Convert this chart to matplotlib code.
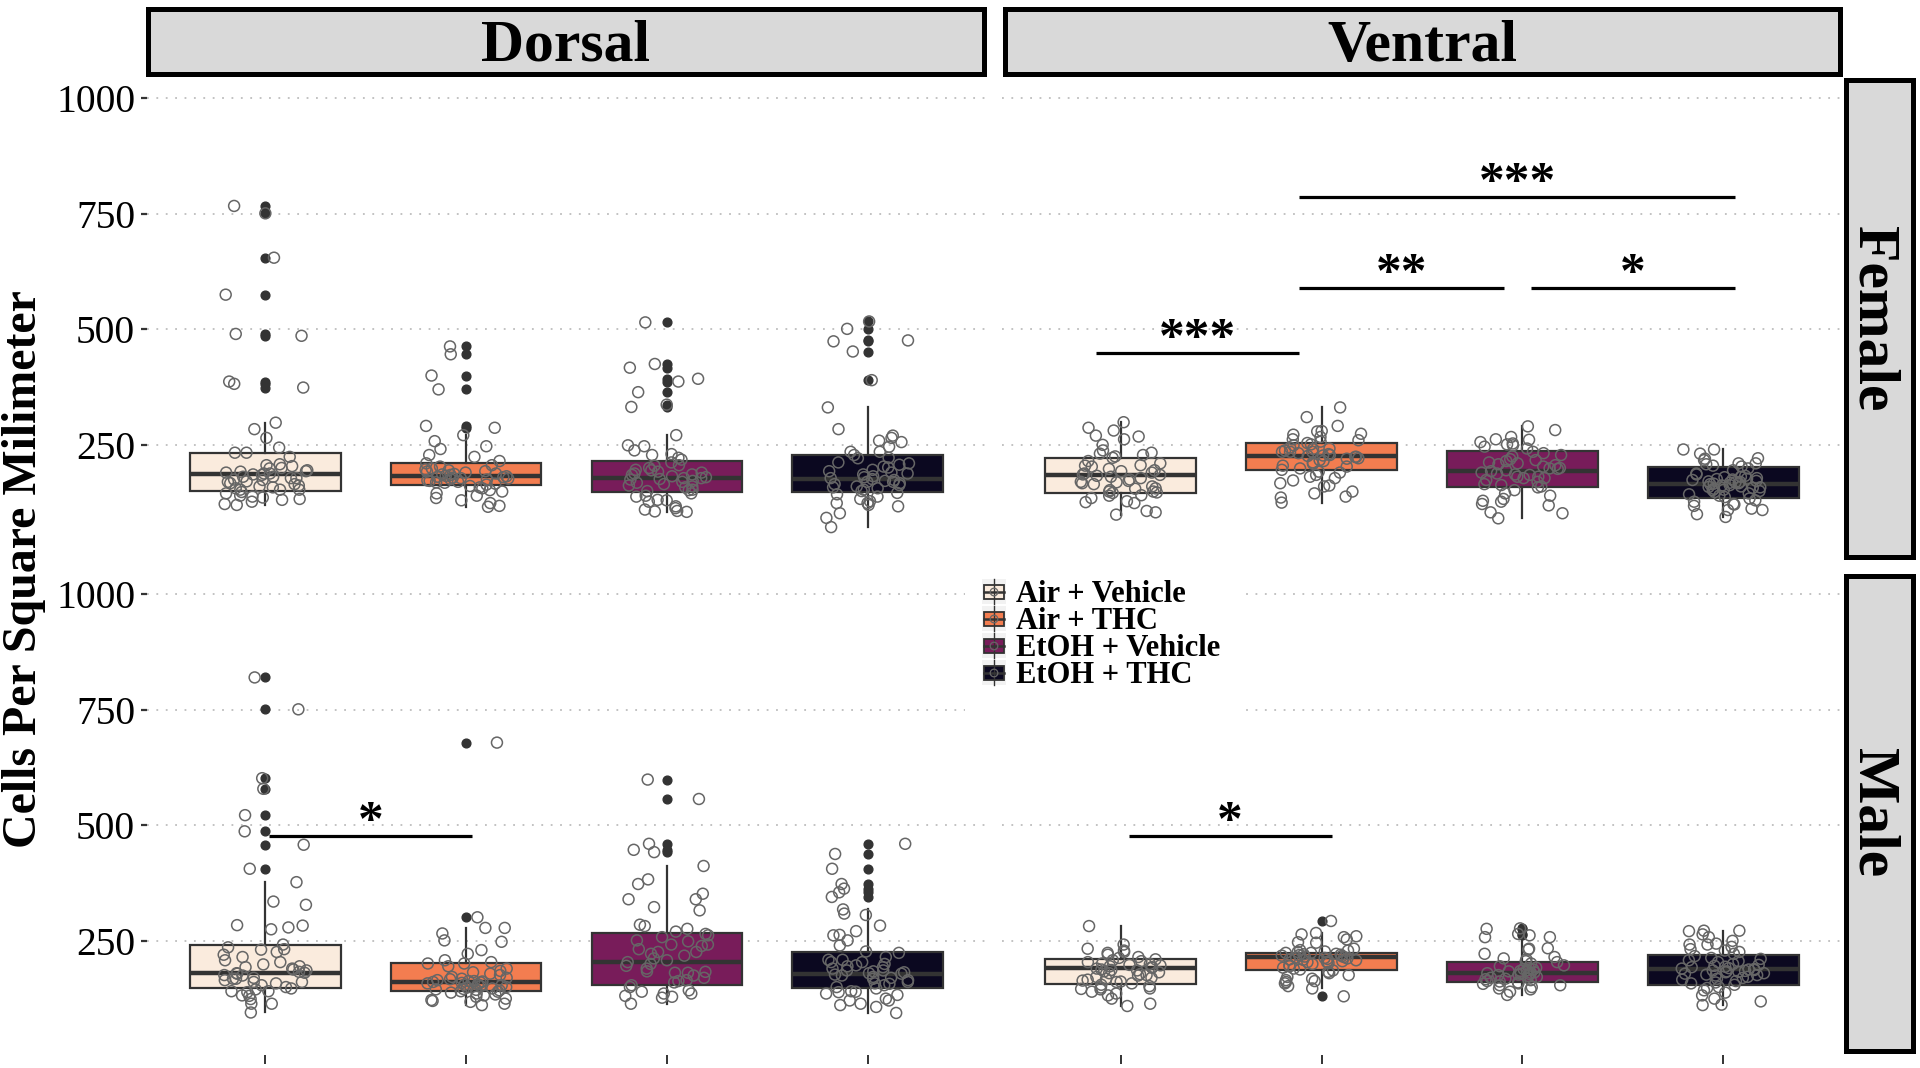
import numpy as np
import matplotlib
matplotlib.use("Agg")
import matplotlib.pyplot as plt
from matplotlib.patches import Rectangle

plt.rcParams['font.family'] = ['Liberation Serif', 'DejaVu Serif']

groups = ['Air + Vehicle', 'Air + THC', 'EtOH + Vehicle', 'EtOH + THC']
colors = ['#FAEBDD', '#F37D50', '#781C5A', '#0B0820']
regions = ['Dorsal', 'Ventral']
sexes = ['Female', 'Male']
yticks = [250, 500, 750, 1000]

# cells per mm^2, one list per treatment group (order as in `groups`)
dorsal_female = [
    [767, 751, 655, 575, 490, 486, 387, 382, 374, 298, 284, 265, 244, 233, 233, 224, 208, 206, 204, 199,
     193, 192, 188, 188, 186, 181, 181, 178, 178, 175, 174, 171, 167, 162, 160, 156, 153, 153, 153, 148,
     145, 140, 138, 136, 133, 131, 127, 122, 120, 195, 185, 200, 170, 190, 165, 158],
    [463, 446, 400, 370, 291, 287, 271, 258, 247, 241, 228, 224, 215, 210, 206, 203, 199, 197, 195, 193,
     190, 188, 186, 185, 183, 182, 180, 179, 178, 176, 175, 173, 172, 170, 168, 166, 164, 161, 158, 156,
     152, 149, 145, 140, 135, 130, 124, 118, 116, 192, 187, 181, 177, 169],
    [515, 425, 417, 393, 387, 364, 337, 332, 271, 247, 249, 238, 230, 222, 228, 206, 205, 196, 195, 192,
     190, 188, 185, 182, 180, 178, 178, 175, 172, 170, 168, 165, 162, 160, 158, 153, 152, 150, 145, 140,
     138, 131, 130, 127, 117, 113, 110, 107, 106, 105, 200, 186, 176, 212, 218],
    [517, 501, 476, 474, 452, 390, 331, 284, 270, 265, 259, 256, 246, 235, 235, 228, 222, 221, 212, 207,
     203, 201, 196, 190, 186, 182, 178, 176, 174, 172, 170, 170, 167, 165, 163, 160, 158, 156, 153, 150,
     146, 143, 138, 133, 128, 124, 124, 120, 117, 102, 92, 72, 180, 188, 193, 210],
]
ventral_female = [
    [299, 287, 281, 270, 268, 262, 250, 231, 233, 228, 225, 222, 206, 210, 205, 203, 198, 193, 188, 186,
     183, 181, 178, 175, 170, 167, 169, 160, 156, 149, 149, 147, 146, 141, 140, 135, 128, 126, 124, 107,
     104, 99, 215, 195, 190, 185, 172, 155, 152, 165, 238],
    [331, 310, 291, 280, 279, 274, 272, 267, 262, 260, 257, 254, 249, 242, 241, 235, 235, 235, 230, 227,
     224, 224, 221, 220, 217, 215, 212, 209, 205, 203, 199, 196, 192, 190, 185, 181, 178, 173, 167, 162,
     160, 149, 145, 138, 136, 125, 228, 232, 238, 244, 251, 226],
    [290, 282, 267, 262, 261, 256, 253, 251, 249, 246, 242, 235, 232, 228, 219, 217, 210, 208, 206, 203,
     200, 199, 198, 193, 190, 188, 186, 181, 181, 178, 178, 174, 170, 165, 163, 160, 158, 152, 145, 140,
     133, 129, 127, 122, 119, 104, 102, 91, 195, 185, 215, 225, 212],
    [240, 240, 231, 221, 220, 217, 210, 210, 208, 205, 203, 199, 195, 188, 186, 183, 181, 178, 177, 176,
     174, 172, 170, 168, 167, 166, 165, 163, 162, 160, 158, 157, 155, 152, 150, 148, 145, 143, 140, 137,
     134, 130, 127, 122, 121, 118, 112, 109, 109, 100, 94, 171, 169, 175, 180, 159, 153],
]
dorsal_male = [
    [820, 751, 602, 579, 522, 487, 458, 406, 377, 335, 328, 284, 283, 279, 275, 242, 232, 231, 226, 215,
     208, 204, 199, 195, 193, 190, 186, 183, 181, 180, 179, 175, 170, 168, 168, 165, 161, 161, 158, 154,
     150, 147, 145, 141, 141, 139, 132, 131, 124, 114, 114, 95, 188, 176, 220, 236],
    [679, 301, 278, 278, 266, 248, 251, 222, 230, 204, 208, 201, 201, 195, 190, 185, 182, 179, 176, 172,
     170, 168, 165, 163, 163, 162, 160, 158, 156, 154, 152, 150, 149, 147, 145, 143, 141, 140, 138, 136,
     134, 132, 129, 125, 122, 120, 118, 114, 111, 167, 161, 159, 155, 146, 144],
    [599, 557, 460, 447, 442, 412, 373, 383, 352, 323, 340, 340, 316, 282, 285, 276, 262, 265, 249, 239,
     242, 242, 251, 226, 226, 222, 208, 204, 196, 184, 181, 181, 183, 175, 170, 163, 165, 160, 154, 150,
     143, 140, 136, 136, 131, 129, 127, 114, 190, 200, 212, 218, 232, 258, 270],
    [460, 438, 406, 373, 363, 355, 345, 318, 309, 306, 283, 271, 263, 262, 251, 240, 227, 224, 215, 209,
     209, 204, 204, 197, 193, 190, 186, 186, 184, 180, 179, 177, 175, 172, 168, 165, 161, 158, 157, 154,
     150, 147, 141, 140, 139, 136, 133, 125, 121, 121, 114, 111, 107, 94, 170, 182, 195, 200],
]
ventral_male = [
    [282, 242, 233, 229, 226, 224, 220, 215, 213, 208, 204, 201, 200, 197, 195, 193, 192, 190, 188, 186,
     184, 182, 180, 178, 175, 172, 170, 168, 166, 164, 161, 158, 155, 152, 149, 147, 146, 145, 140, 136,
     132, 125, 114, 109, 198, 187, 176, 162, 206, 210],
    [293, 267, 264, 260, 258, 253, 247, 246, 233, 230, 229, 227, 226, 224, 224, 222, 220, 218, 216, 215,
     214, 213, 212, 211, 210, 208, 206, 204, 204, 202, 200, 197, 195, 192, 190, 188, 186, 183, 180, 176,
     172, 168, 165, 163, 161, 158, 152, 147, 130, 209, 217, 219, 221],
    [277, 276, 265, 262, 258, 258, 234, 231, 233, 222, 215, 212, 210, 206, 204, 201, 197, 195, 192, 191,
     189, 188, 186, 184, 182, 180, 179, 177, 176, 174, 172, 170, 168, 167, 165, 163, 162, 160, 158, 157,
     154, 154, 150, 147, 145, 140, 133, 185, 178, 181],
    [272, 272, 271, 264, 258, 250, 244, 242, 242, 237, 232, 229, 226, 222, 217, 213, 211, 208, 206, 204,
     200, 196, 193, 191, 190, 189, 188, 186, 184, 182, 180, 179, 177, 175, 172, 170, 168, 166, 163, 160,
     158, 155, 150, 148, 143, 138, 132, 125, 119, 112, 111, 194, 198, 187, 183, 176, 185],
]

# box summaries: (whisker low, q1, median, q3, whisker high)
dorsal_female_box = [(120, 151, 186, 232, 298), (116, 163, 183, 211, 271),
                     (105, 148, 178, 214, 271), (72, 148, 176, 227, 331)]
ventral_female_box = [(99, 146, 185, 221, 299), (125, 196, 226, 255, 331),
                      (91, 158, 193, 237, 290), (94, 136, 165, 201, 240)]
dorsal_male_box = [(95, 147, 181, 242, 377), (111, 141, 161, 203, 278),
                   (114, 155, 204, 268, 412), (94, 147, 178, 226, 318)]
ventral_male_box = [(109, 157, 192, 210, 282), (147, 186, 214, 224, 267),
                    (133, 161, 180, 204, 258), (111, 155, 190, 219, 272)]

data = {('Female', 'Dorsal'): (dorsal_female, dorsal_female_box),
        ('Female', 'Ventral'): (ventral_female, ventral_female_box),
        ('Male', 'Dorsal'): (dorsal_male, dorsal_male_box),
        ('Male', 'Ventral'): (ventral_male, ventral_male_box)}

# significance brackets
sig_sex = ['Female', 'Female', 'Female', 'Female', 'Male', 'Male']
sig_region = ['Ventral', 'Ventral', 'Ventral', 'Ventral', 'Dorsal', 'Ventral']
sig_x1 = [0.88, 1.89, 3.04, 1.89, 1.02, 1.04]
sig_x2 = [1.89, 2.91, 4.06, 4.06, 2.03, 2.05]
sig_y = [448, 589, 589, 787, 476, 476]
sig_label = ['***', '**', '*', '***', '*', '*']

W, H = 1920, 1068
fig = plt.figure(figsize=(W / 100, H / 100), dpi=100)


def box(x0, y0, x1, y1):
    # pixel box (top-left origin) -> figure fraction rect
    return [x0 / W, 1 - y1 / H, (x1 - x0) / W, (y1 - y0) / H]


panel_x = {'Dorsal': (147, 986), 'Ventral': (1002, 1842)}
panel_y = {'Female': (77, 559), 'Male': (573, 1055)}
rng = np.random.default_rng(11)

for sex in sexes:
    for region in regions:
        ax = fig.add_axes(box(panel_x[region][0], panel_y[sex][0], panel_x[region][1], panel_y[sex][1]))
        values, summ = data[(sex, region)]
        stats = []
        for vals, (lo, q1, med, q3, hi) in zip(values, summ):
            stats.append(dict(whislo=lo, q1=q1, med=med, q3=q3, whishi=hi,
                              fliers=[v for v in vals if v < lo or v > hi]))
        pos = np.arange(1, len(groups) + 1)
        bp = ax.bxp(stats, positions=pos, widths=0.75, patch_artist=True, showcaps=False,
                    boxprops=dict(edgecolor='#333333', linewidth=1.6),
                    whiskerprops=dict(color='#333333', linewidth=1.6),
                    medianprops=dict(color='#333333', linewidth=3.2),
                    flierprops=dict(marker='o', markerfacecolor='#333333', markeredgecolor='#333333',
                                    markersize=6.3, linestyle='none'))
        for patch, c in zip(bp['boxes'], colors):
            patch.set_facecolor(c)
        for p, vals in zip(pos, values):
            jit = rng.uniform(-0.21, 0.21, len(vals))
            ax.scatter(p + jit, vals, s=62, facecolors='none', edgecolors='#666666',
                       linewidths=1.1, zorder=5)

        for s, r, x1, x2, y, lab in zip(sig_sex, sig_region, sig_x1, sig_x2, sig_y, sig_label):
            if s == sex and r == region:
                ax.plot([x1, x2], [y, y], color='black', lw=2.3, solid_capstyle='butt', zorder=6)
                ax.text((x1 + x2) / 2, y + 2, lab, ha='center', va='baseline', fontsize=37,
                        fontweight='bold', zorder=6)

        ax.set_xlim(0.41, 4.59)
        ax.set_ylim(3, 1046)
        ax.set_yticks(yticks)
        ax.yaxis.grid(True, color='#BDBDBD', linestyle=(0, (1, 4.2)), linewidth=1.3)
        ax.set_axisbelow(True)
        for sp in ax.spines.values():
            sp.set_visible(False)
        ax.set_xticks(pos)
        ax.set_xticklabels([])
        if sex == 'Male':
            ax.tick_params(axis='x', length=6.5, width=1.4, color='#333333')
        else:
            ax.tick_params(axis='x', length=0)
        if region == 'Dorsal':
            ax.tick_params(axis='y', length=4.5, width=1.6, color='#333333', pad=4,
                           labelsize=28.5, labelcolor='black')
        else:
            ax.tick_params(axis='y', length=0, labelleft=False)

# facet strips
strip_boxes = {'Dorsal': (147.5, 8.5, 983.5, 73.5), 'Ventral': (1004.5, 8.5, 1840, 73.5),
               'Female': (1845.5, 80, 1912.5, 557), 'Male': (1845.5, 575.5, 1912.5, 1050.5)}
for name, (x0, y0, x1, y1) in strip_boxes.items():
    sax = fig.add_axes(box(x0, y0, x1, y1))
    sax.set_facecolor('#D9D9D9')
    sax.set_xticks([])
    sax.set_yticks([])
    for sp in sax.spines.values():
        sp.set_linewidth(3.6)
        sp.set_color('black')
    if name in regions:
        sax.text(0.5, 0.2, name, ha='center', va='baseline', fontsize=43, fontweight='bold',
                 transform=sax.transAxes)
    else:
        sax.text(0.19, 0.5, name, ha='center', va='baseline', fontsize=43, fontweight='bold',
                 rotation=-90, rotation_mode='anchor', transform=sax.transAxes)

fig.text(24 / W, 1 - 569 / H, 'Cells Per Square Milimeter', rotation=90, ha='center', va='center',
         fontsize=34.5, fontweight='bold')

# legend drawn in pixel units
lax = fig.add_axes(box(965, 570, 1240, 720))
lax.set_xlim(965, 1240)
lax.set_ylim(720, 570)
lax.set_facecolor('white')
lax.set_xticks([])
lax.set_yticks([])
for sp in lax.spines.values():
    sp.set_visible(False)
for i, (g, c) in enumerate(zip(groups, colors)):
    yc = 592 + 27 * i
    lax.add_patch(Rectangle((982, yc - 12.5), 24, 25, fc='#F2F2F2', ec='none'))
    lax.plot([994, 994], [yc - 12.5, yc + 12.5], color='#333333', lw=1.0)
    lax.add_patch(Rectangle((984, yc - 7), 20, 14, fc=c, ec='#333333', lw=1.3))
    lax.plot([984, 1004], [yc, yc], color='#333333', lw=1.8)
    lax.scatter([994], [yc], s=30, facecolors='none', edgecolors='#666666', linewidths=0.9, zorder=5)
    lax.text(1016, yc + 10, g, ha='left', va='baseline', fontsize=22, fontweight='bold')

fig.savefig('out.png', dpi=100)
